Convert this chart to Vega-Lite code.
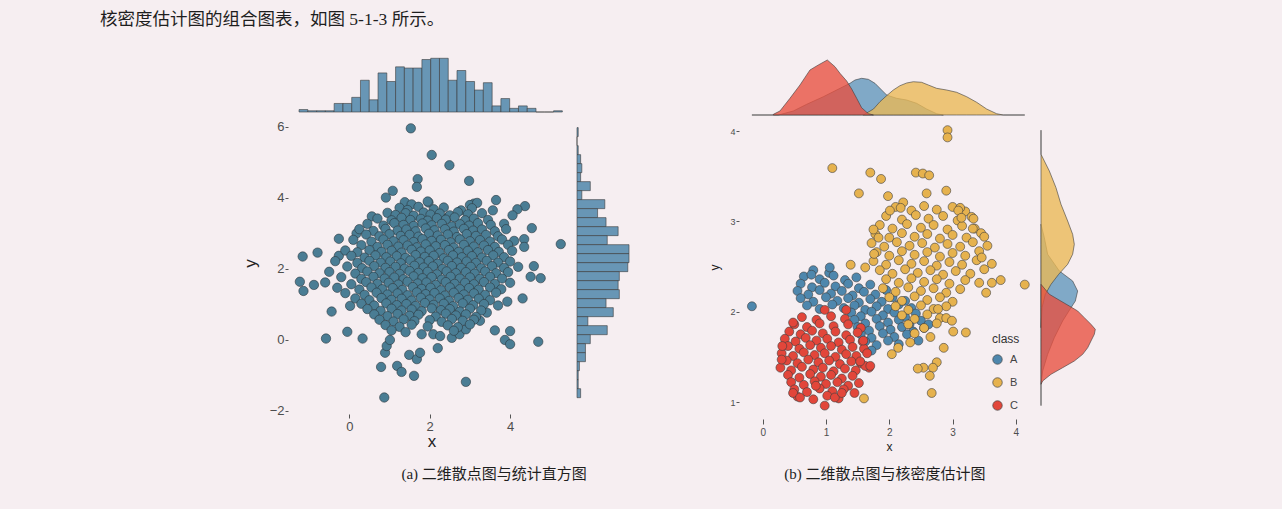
{
"$schema": "https://vega.github.io/schema/vega-lite/v6.json",
"background": "#f6eef1",
"padding": {"left": 100, "top": 10, "right": 182, "bottom": 27},
"title": {"text": "核密度估计图的组合图表，如图 5-1-3 所示。", "anchor": "start", "frame": "group", "dx": -188, "offset": 27, "fontSize": 17.5, "font": "Liberation Serif, Noto Sans CJK SC", "fontWeight": "normal", "color": "#1e1e1e"},
"datasets": {
"L": [
{"x":1.53,"y":5.96},{"x":2.05,"y":5.21},{"x":2.49,"y":4.92},{"x":2.98,"y":4.48},{"x":1.7,"y":4.53},{"x":1.68,"y":4.31},{"x":1.08,"y":4.2},{"x":0.91,"y":4.01},{"x":0.56,"y":3.48},{"x":0.18,"y":3.0},{"x":-0.26,"y":2.85},{"x":-0.79,"y":2.46},{"x":-1.16,"y":2.35},{"x":-0.26,"y":2.37},{"x":-1.23,"y":1.64},{"x":-1.14,"y":1.38},{"x":-0.88,"y":1.55},{"x":5.26,"y":2.7},{"x":4.54,"y":3.15},{"x":4.37,"y":3.77},{"x":4.18,"y":3.68},{"x":4.06,"y":3.51},{"x":3.65,"y":3.94},{"x":3.57,"y":3.65},{"x":3.1,"y":3.84},{"x":4.35,"y":2.84},{"x":4.35,"y":2.62},{"x":4.59,"y":2.08},{"x":4.51,"y":1.78},{"x":4.76,"y":1.74},{"x":4.31,"y":1.17},{"x":3.93,"y":1.08},{"x":1.97,"y":3.87},{"x":2.46,"y":3.46},
{"x":-0.58,"y":0.04},{"x":-0.05,"y":0.23},{"x":0.33,"y":0.04},{"x":-0.44,"y":0.8},{"x":0.02,"y":0.96},{"x":0.79,"y":-0.76},{"x":1.19,"y":-0.73},{"x":1.3,"y":-0.9},{"x":1.61,"y":-1.01},{"x":0.87,"y":-1.62},{"x":2.9,"y":-1.18},{"x":2.2,"y":-0.23},{"x":1.49,"y":-0.42},{"x":1.68,"y":-0.54},{"x":1.76,"y":-0.36},{"x":0.89,"y":-0.36},{"x":0.93,"y":-0.17},{"x":1.01,"y":0.0},{"x":3.62,"y":0.27},{"x":4.0,"y":0.25},{"x":3.87,"y":0.0},{"x":4.0,"y":-0.12},{"x":4.7,"y":-0.05},{"x":1.8,"y":0.16},{"x":2.09,"y":0.16},{"x":2.26,"y":0.11},{"x":2.55,"y":0.06},{"x":2.74,"y":0.16},{"x":2.9,"y":0.3},{"x":3.42,"y":0.77},{"x":3.25,"y":0.54},
{"x":1.38,"y":3.88},{"x":1.55,"y":3.82},{"x":1.95,"y":3.9},{"x":3.0,"y":3.8},{"x":3.18,"y":3.86},
{"x":1.25,"y":3.72},{"x":1.45,"y":3.66},{"x":1.72,"y":3.75},{"x":2.1,"y":3.68},{"x":2.35,"y":3.73},{"x":2.78,"y":3.65},{"x":3.05,"y":3.71},
{"x":0.95,"y":3.58},{"x":1.15,"y":3.52},{"x":1.4,"y":3.57},{"x":1.6,"y":3.5},{"x":1.85,"y":3.59},{"x":2.02,"y":3.53},{"x":2.25,"y":3.56},{"x":2.5,"y":3.51},{"x":2.7,"y":3.6},{"x":2.95,"y":3.54},{"x":3.3,"y":3.57},
{"x":0.7,"y":3.42},{"x":1.05,"y":3.37},{"x":1.3,"y":3.44},{"x":1.52,"y":3.38},{"x":1.78,"y":3.41},{"x":1.95,"y":3.36},{"x":2.18,"y":3.43},{"x":2.4,"y":3.39},{"x":2.62,"y":3.45},{"x":2.88,"y":3.37},{"x":3.1,"y":3.42},{"x":3.45,"y":3.38},
{"x":0.45,"y":3.27},{"x":0.85,"y":3.22},{"x":1.12,"y":3.29},{"x":1.35,"y":3.24},{"x":1.6,"y":3.21},{"x":1.82,"y":3.28},{"x":2.05,"y":3.23},{"x":2.3,"y":3.27},{"x":2.55,"y":3.2},{"x":2.75,"y":3.26},{"x":2.98,"y":3.22},{"x":3.2,"y":3.29},{"x":3.52,"y":3.24},{"x":3.85,"y":3.27},
{"x":0.25,"y":3.12},{"x":0.6,"y":3.07},{"x":0.9,"y":3.13},{"x":1.2,"y":3.08},{"x":1.42,"y":3.11},{"x":1.65,"y":3.06},{"x":1.9,"y":3.14},{"x":2.12,"y":3.09},{"x":2.38,"y":3.12},{"x":2.6,"y":3.05},{"x":2.85,"y":3.13},{"x":3.08,"y":3.08},{"x":3.3,"y":3.11},{"x":3.62,"y":3.06},{"x":3.9,"y":3.12},
{"x":0.42,"y":2.97},{"x":0.75,"y":2.92},{"x":1.0,"y":2.98},{"x":1.28,"y":2.93},{"x":1.5,"y":2.96},{"x":1.72,"y":2.91},{"x":1.98,"y":2.99},{"x":2.2,"y":2.94},{"x":2.45,"y":2.97},{"x":2.68,"y":2.9},{"x":2.92,"y":2.98},{"x":3.15,"y":2.93},{"x":3.4,"y":2.96},{"x":3.7,"y":2.92},
{"x":0.1,"y":2.82},{"x":0.55,"y":2.77},{"x":0.85,"y":2.83},{"x":1.1,"y":2.78},{"x":1.35,"y":2.81},{"x":1.6,"y":2.76},{"x":1.82,"y":2.84},{"x":2.05,"y":2.79},{"x":2.28,"y":2.82},{"x":2.52,"y":2.75},{"x":2.75,"y":2.83},{"x":3.0,"y":2.78},{"x":3.25,"y":2.81},{"x":3.5,"y":2.77},{"x":3.8,"y":2.83},{"x":4.1,"y":2.79},
{"x":0.3,"y":2.67},{"x":0.7,"y":2.62},{"x":0.95,"y":2.68},{"x":1.22,"y":2.63},{"x":1.45,"y":2.66},{"x":1.68,"y":2.61},{"x":1.9,"y":2.69},{"x":2.15,"y":2.64},{"x":2.38,"y":2.67},{"x":2.6,"y":2.6},{"x":2.85,"y":2.68},{"x":3.1,"y":2.63},{"x":3.35,"y":2.66},{"x":3.62,"y":2.62},{"x":3.95,"y":2.68},
{"x":-0.1,"y":2.52},{"x":0.2,"y":2.47},{"x":0.5,"y":2.53},{"x":0.8,"y":2.48},{"x":1.05,"y":2.51},{"x":1.3,"y":2.46},{"x":1.55,"y":2.54},{"x":1.78,"y":2.49},{"x":2.0,"y":2.52},{"x":2.25,"y":2.45},{"x":2.48,"y":2.53},{"x":2.72,"y":2.48},{"x":2.95,"y":2.51},{"x":3.2,"y":2.47},{"x":3.45,"y":2.53},{"x":3.72,"y":2.48},{"x":4.05,"y":2.51},
{"x":0.05,"y":2.37},{"x":0.38,"y":2.32},{"x":0.65,"y":2.38},{"x":0.92,"y":2.33},{"x":1.18,"y":2.36},{"x":1.4,"y":2.31},{"x":1.65,"y":2.39},{"x":1.88,"y":2.34},{"x":2.1,"y":2.37},{"x":2.35,"y":2.3},{"x":2.58,"y":2.38},{"x":2.8,"y":2.33},{"x":3.05,"y":2.36},{"x":3.3,"y":2.32},{"x":3.58,"y":2.38},{"x":3.85,"y":2.33},
{"x":-0.35,"y":2.22},{"x":0.2,"y":2.17},{"x":0.5,"y":2.23},{"x":0.78,"y":2.18},{"x":1.02,"y":2.21},{"x":1.28,"y":2.16},{"x":1.52,"y":2.24},{"x":1.75,"y":2.19},{"x":1.98,"y":2.22},{"x":2.2,"y":2.15},{"x":2.45,"y":2.23},{"x":2.68,"y":2.18},{"x":2.92,"y":2.21},{"x":3.15,"y":2.17},{"x":3.42,"y":2.23},{"x":3.7,"y":2.18},{"x":4.0,"y":2.21},
{"x":-0.05,"y":2.07},{"x":0.32,"y":2.02},{"x":0.62,"y":2.08},{"x":0.9,"y":2.03},{"x":1.15,"y":2.06},{"x":1.38,"y":2.01},{"x":1.62,"y":2.09},{"x":1.85,"y":2.04},{"x":2.08,"y":2.07},{"x":2.32,"y":2.0},{"x":2.55,"y":2.08},{"x":2.78,"y":2.03},{"x":3.02,"y":2.06},{"x":3.28,"y":2.02},{"x":3.55,"y":2.08},{"x":3.85,"y":2.03},{"x":4.2,"y":2.06},
{"x":-0.5,"y":1.92},{"x":0.15,"y":1.87},{"x":0.45,"y":1.93},{"x":0.75,"y":1.88},{"x":1.0,"y":1.91},{"x":1.25,"y":1.86},{"x":1.5,"y":1.94},{"x":1.72,"y":1.89},{"x":1.95,"y":1.92},{"x":2.18,"y":1.85},{"x":2.42,"y":1.93},{"x":2.65,"y":1.88},{"x":2.9,"y":1.91},{"x":3.12,"y":1.87},{"x":3.38,"y":1.93},{"x":3.65,"y":1.88},{"x":3.95,"y":1.91},
{"x":-0.2,"y":1.77},{"x":0.3,"y":1.72},{"x":0.6,"y":1.78},{"x":0.88,"y":1.73},{"x":1.12,"y":1.76},{"x":1.35,"y":1.71},{"x":1.6,"y":1.79},{"x":1.82,"y":1.74},{"x":2.05,"y":1.77},{"x":2.3,"y":1.7},{"x":2.52,"y":1.78},{"x":2.75,"y":1.73},{"x":3.0,"y":1.76},{"x":3.25,"y":1.72},{"x":3.5,"y":1.78},{"x":3.8,"y":1.73},
{"x":-0.6,"y":1.62},{"x":0.05,"y":1.57},{"x":0.42,"y":1.63},{"x":0.7,"y":1.58},{"x":0.98,"y":1.61},{"x":1.22,"y":1.56},{"x":1.45,"y":1.64},{"x":1.7,"y":1.59},{"x":1.92,"y":1.62},{"x":2.15,"y":1.55},{"x":2.4,"y":1.63},{"x":2.62,"y":1.58},{"x":2.88,"y":1.61},{"x":3.1,"y":1.57},{"x":3.35,"y":1.63},{"x":3.62,"y":1.58},{"x":4.0,"y":1.61},
{"x":-0.3,"y":1.47},{"x":0.25,"y":1.42},{"x":0.55,"y":1.48},{"x":0.82,"y":1.43},{"x":1.08,"y":1.46},{"x":1.32,"y":1.41},{"x":1.58,"y":1.49},{"x":1.8,"y":1.44},{"x":2.02,"y":1.47},{"x":2.28,"y":1.4},{"x":2.5,"y":1.48},{"x":2.75,"y":1.43},{"x":2.98,"y":1.46},{"x":3.22,"y":1.42},{"x":3.5,"y":1.48},{"x":3.78,"y":1.43},
{"x":-0.1,"y":1.32},{"x":0.38,"y":1.27},{"x":0.68,"y":1.33},{"x":0.95,"y":1.28},{"x":1.2,"y":1.31},{"x":1.45,"y":1.26},{"x":1.68,"y":1.34},{"x":1.9,"y":1.29},{"x":2.12,"y":1.32},{"x":2.38,"y":1.25},{"x":2.6,"y":1.33},{"x":2.85,"y":1.28},{"x":3.1,"y":1.31},{"x":3.38,"y":1.27},{"x":3.65,"y":1.33},
{"x":0.15,"y":1.17},{"x":0.5,"y":1.12},{"x":0.8,"y":1.18},{"x":1.05,"y":1.13},{"x":1.3,"y":1.16},{"x":1.55,"y":1.11},{"x":1.78,"y":1.19},{"x":2.0,"y":1.14},{"x":2.25,"y":1.17},{"x":2.48,"y":1.1},{"x":2.72,"y":1.18},{"x":2.95,"y":1.13},{"x":3.22,"y":1.16},{"x":3.5,"y":1.12},
{"x":0.3,"y":1.02},{"x":0.62,"y":0.97},{"x":0.92,"y":1.03},{"x":1.18,"y":0.98},{"x":1.42,"y":1.01},{"x":1.65,"y":0.96},{"x":1.88,"y":1.04},{"x":2.1,"y":0.99},{"x":2.35,"y":1.02},{"x":2.58,"y":0.95},{"x":2.82,"y":1.03},{"x":3.08,"y":0.98},{"x":3.35,"y":1.01},{"x":3.7,"y":0.97},
{"x":0.45,"y":0.87},{"x":0.78,"y":0.82},{"x":1.05,"y":0.88},{"x":1.3,"y":0.83},{"x":1.55,"y":0.86},{"x":1.8,"y":0.81},{"x":2.05,"y":0.89},{"x":2.28,"y":0.84},{"x":2.5,"y":0.87},{"x":2.75,"y":0.8},{"x":3.0,"y":0.88},{"x":3.28,"y":0.83},
{"x":0.62,"y":0.72},{"x":0.95,"y":0.67},{"x":1.2,"y":0.73},{"x":1.5,"y":0.68},{"x":1.72,"y":0.71},{"x":2.15,"y":0.66},{"x":2.4,"y":0.74},{"x":2.65,"y":0.69},{"x":2.9,"y":0.72},{"x":3.15,"y":0.65},
{"x":0.75,"y":0.57},{"x":1.1,"y":0.52},{"x":1.35,"y":0.58},{"x":1.62,"y":0.53},{"x":2.0,"y":0.56},{"x":2.3,"y":0.51},{"x":2.55,"y":0.59},{"x":2.82,"y":0.54},{"x":3.1,"y":0.57},
{"x":0.9,"y":0.42},{"x":1.25,"y":0.37},{"x":1.55,"y":0.43},{"x":1.95,"y":0.38},{"x":2.45,"y":0.41},{"x":2.7,"y":0.36},{"x":3.0,"y":0.44},
{"x":1.05,"y":0.27},{"x":1.4,"y":0.22},{"x":2.6,"y":0.26}
],
"LX": [
{"x0":-1.25,"x1":-1.032,"n":2},{"x0":-1.032,"x1":-0.813,"n":1},{"x0":-0.813,"x1":-0.595,"n":1},{"x0":-0.595,"x1":-0.377,"n":1},{"x0":-0.377,"x1":-0.158,"n":7},{"x0":-0.158,"x1":0.06,"n":7},{"x0":0.06,"x1":0.278,"n":12},{"x0":0.278,"x1":0.496,"n":26},{"x0":0.496,"x1":0.715,"n":10},{"x0":0.715,"x1":0.933,"n":32},{"x0":0.933,"x1":1.151,"n":25},{"x0":1.151,"x1":1.37,"n":37},{"x0":1.37,"x1":1.588,"n":36},{"x0":1.588,"x1":1.806,"n":36},{"x0":1.806,"x1":2.025,"n":43},{"x0":2.025,"x1":2.243,"n":44},{"x0":2.243,"x1":2.461,"n":44},{"x0":2.461,"x1":2.679,"n":26},{"x0":2.679,"x1":2.898,"n":34},{"x0":2.898,"x1":3.116,"n":25},{"x0":3.116,"x1":3.334,"n":18},{"x0":3.334,"x1":3.553,"n":24},{"x0":3.553,"x1":3.771,"n":5},{"x0":3.771,"x1":3.989,"n":11},{"x0":3.989,"x1":4.208,"n":3},{"x0":4.208,"x1":4.426,"n":5},{"x0":4.426,"x1":4.644,"n":3},{"x0":4.644,"x1":4.862,"n":0},{"x0":4.862,"x1":5.081,"n":0},{"x0":5.081,"x1":5.299,"n":1}
],
"LY": [
{"y0":5.727,"y1":5.98,"n":1},{"y0":5.473,"y1":5.727,"n":0},{"y0":5.219,"y1":5.473,"n":1},{"y0":4.966,"y1":5.219,"n":3},{"y0":4.712,"y1":4.966,"n":4},{"y0":4.459,"y1":4.712,"n":3},{"y0":4.205,"y1":4.459,"n":11},{"y0":3.952,"y1":4.205,"n":4},{"y0":3.698,"y1":3.952,"n":23},{"y0":3.445,"y1":3.698,"n":17},{"y0":3.191,"y1":3.445,"n":24},{"y0":2.938,"y1":3.191,"n":34},{"y0":2.684,"y1":2.938,"n":25},{"y0":2.431,"y1":2.684,"n":43},{"y0":2.177,"y1":2.431,"n":43},{"y0":1.924,"y1":2.177,"n":42},{"y0":1.67,"y1":1.924,"n":35},{"y0":1.417,"y1":1.67,"n":34},{"y0":1.163,"y1":1.417,"n":35},{"y0":0.91,"y1":1.163,"n":24},{"y0":0.656,"y1":0.91,"n":30},{"y0":0.403,"y1":0.656,"n":9},{"y0":0.149,"y1":0.403,"n":25},{"y0":-0.104,"y1":0.149,"n":11},{"y0":-0.358,"y1":-0.104,"n":7},{"y0":-0.611,"y1":-0.358,"n":7},{"y0":-0.865,"y1":-0.611,"n":2},{"y0":-1.118,"y1":-0.865,"n":1},{"y0":-1.372,"y1":-1.118,"n":1},{"y0":-1.625,"y1":-1.372,"n":3}
],
"R": [
{"x":0.8,"y":2.46,"c":"A"},{"x":1.05,"y":2.43,"c":"A"},
{"x":0.65,"y":2.39,"c":"A"},{"x":0.9,"y":2.36,"c":"A"},{"x":1.12,"y":2.4,"c":"A"},{"x":1.3,"y":2.35,"c":"A"},{"x":1.48,"y":2.38,"c":"A"},
{"x":0.6,"y":2.31,"c":"A"},{"x":0.78,"y":2.27,"c":"A"},{"x":0.98,"y":2.32,"c":"A"},{"x":1.15,"y":2.28,"c":"A"},{"x":1.35,"y":2.31,"c":"A"},{"x":1.52,"y":2.26,"c":"A"},{"x":1.7,"y":2.3,"c":"A"},
{"x":0.55,"y":2.23,"c":"A"},{"x":0.72,"y":2.19,"c":"A"},{"x":0.9,"y":2.24,"c":"A"},{"x":1.08,"y":2.2,"c":"A"},{"x":1.25,"y":2.23,"c":"A"},{"x":1.42,"y":2.18,"c":"A"},{"x":1.6,"y":2.22,"c":"A"},{"x":1.78,"y":2.19,"c":"A"},{"x":1.95,"y":2.24,"c":"A"},
{"x":0.6,"y":2.15,"c":"A"},{"x":0.8,"y":2.11,"c":"A"},{"x":1.0,"y":2.16,"c":"A"},{"x":1.18,"y":2.12,"c":"A"},{"x":1.35,"y":2.15,"c":"A"},{"x":1.52,"y":2.1,"c":"A"},{"x":1.7,"y":2.14,"c":"A"},{"x":1.88,"y":2.11,"c":"A"},{"x":2.05,"y":2.16,"c":"A"},{"x":2.25,"y":2.12,"c":"A"},
{"x":0.7,"y":2.07,"c":"A"},{"x":0.9,"y":2.03,"c":"A"},{"x":1.1,"y":2.08,"c":"A"},{"x":1.28,"y":2.04,"c":"A"},{"x":1.45,"y":2.07,"c":"A"},{"x":1.62,"y":2.02,"c":"A"},{"x":1.8,"y":2.06,"c":"A"},{"x":1.98,"y":2.03,"c":"A"},{"x":2.15,"y":2.08,"c":"A"},{"x":2.35,"y":2.04,"c":"A"},
{"x":1.4,"y":1.99,"c":"A"},{"x":1.55,"y":1.95,"c":"A"},{"x":1.72,"y":2.0,"c":"A"},{"x":1.9,"y":1.96,"c":"A"},{"x":2.08,"y":1.99,"c":"A"},{"x":2.25,"y":1.94,"c":"A"},{"x":2.42,"y":1.98,"c":"A"},
{"x":1.45,"y":1.91,"c":"A"},{"x":1.62,"y":1.87,"c":"A"},{"x":1.8,"y":1.92,"c":"A"},{"x":1.98,"y":1.88,"c":"A"},{"x":2.15,"y":1.91,"c":"A"},{"x":2.32,"y":1.86,"c":"A"},{"x":2.5,"y":1.9,"c":"A"},
{"x":1.5,"y":1.83,"c":"A"},{"x":1.68,"y":1.79,"c":"A"},{"x":1.85,"y":1.84,"c":"A"},{"x":2.02,"y":1.8,"c":"A"},{"x":2.2,"y":1.83,"c":"A"},{"x":2.38,"y":1.78,"c":"A"},{"x":2.55,"y":1.82,"c":"A"},
{"x":1.55,"y":1.75,"c":"A"},{"x":1.72,"y":1.71,"c":"A"},{"x":1.9,"y":1.76,"c":"A"},{"x":2.08,"y":1.72,"c":"A"},{"x":2.28,"y":1.75,"c":"A"},
{"x":1.62,"y":1.67,"c":"A"},{"x":1.8,"y":1.63,"c":"A"},{"x":1.98,"y":1.68,"c":"A"},{"x":2.15,"y":1.64,"c":"A"},
{"x":-0.17,"y":2.06,"c":"A"},{"x":1.06,"y":2.49,"c":"A"},{"x":0.77,"y":2.41,"c":"A"},{"x":1.72,"y":1.57,"c":"A"},{"x":2.62,"y":1.86,"c":"A"},{"x":2.46,"y":1.68,"c":"A"},
{"x":2.1,"y":3.16,"c":"B"},{"x":2.35,"y":3.12,"c":"B"},{"x":2.55,"y":3.17,"c":"B"},{"x":2.75,"y":3.13,"c":"B"},{"x":3.0,"y":3.16,"c":"B"},{"x":3.2,"y":3.11,"c":"B"},
{"x":1.95,"y":3.06,"c":"B"},{"x":2.2,"y":3.02,"c":"B"},{"x":2.42,"y":3.07,"c":"B"},{"x":2.62,"y":3.03,"c":"B"},{"x":2.85,"y":3.06,"c":"B"},{"x":3.08,"y":3.01,"c":"B"},{"x":3.3,"y":3.05,"c":"B"},
{"x":1.85,"y":2.96,"c":"B"},{"x":2.05,"y":2.92,"c":"B"},{"x":2.28,"y":2.97,"c":"B"},{"x":2.5,"y":2.93,"c":"B"},{"x":2.7,"y":2.96,"c":"B"},{"x":2.92,"y":2.91,"c":"B"},{"x":3.15,"y":2.95,"c":"B"},{"x":3.35,"y":2.92,"c":"B"},
{"x":1.78,"y":2.86,"c":"B"},{"x":2.0,"y":2.82,"c":"B"},{"x":2.2,"y":2.87,"c":"B"},{"x":2.4,"y":2.83,"c":"B"},{"x":2.6,"y":2.86,"c":"B"},{"x":2.8,"y":2.81,"c":"B"},{"x":3.0,"y":2.85,"c":"B"},{"x":3.22,"y":2.82,"c":"B"},{"x":3.45,"y":2.87,"c":"B"},
{"x":1.72,"y":2.76,"c":"B"},{"x":1.92,"y":2.72,"c":"B"},{"x":2.12,"y":2.77,"c":"B"},{"x":2.32,"y":2.73,"c":"B"},{"x":2.52,"y":2.76,"c":"B"},{"x":2.72,"y":2.71,"c":"B"},{"x":2.92,"y":2.75,"c":"B"},{"x":3.12,"y":2.72,"c":"B"},{"x":3.32,"y":2.77,"c":"B"},{"x":3.55,"y":2.73,"c":"B"},
{"x":1.8,"y":2.66,"c":"B"},{"x":2.0,"y":2.62,"c":"B"},{"x":2.2,"y":2.67,"c":"B"},{"x":2.4,"y":2.63,"c":"B"},{"x":2.6,"y":2.66,"c":"B"},{"x":2.8,"y":2.61,"c":"B"},{"x":3.0,"y":2.65,"c":"B"},{"x":3.2,"y":2.62,"c":"B"},{"x":3.42,"y":2.67,"c":"B"},
{"x":1.75,"y":2.56,"c":"B"},{"x":1.95,"y":2.52,"c":"B"},{"x":2.15,"y":2.57,"c":"B"},{"x":2.35,"y":2.53,"c":"B"},{"x":2.55,"y":2.56,"c":"B"},{"x":2.75,"y":2.51,"c":"B"},{"x":2.95,"y":2.55,"c":"B"},{"x":3.15,"y":2.52,"c":"B"},{"x":3.38,"y":2.57,"c":"B"},{"x":3.62,"y":2.53,"c":"B"},
{"x":1.85,"y":2.46,"c":"B"},{"x":2.05,"y":2.42,"c":"B"},{"x":2.25,"y":2.47,"c":"B"},{"x":2.45,"y":2.43,"c":"B"},{"x":2.65,"y":2.46,"c":"B"},{"x":2.85,"y":2.41,"c":"B"},{"x":3.05,"y":2.45,"c":"B"},{"x":3.28,"y":2.42,"c":"B"},{"x":3.5,"y":2.47,"c":"B"},
{"x":1.95,"y":2.36,"c":"B"},{"x":2.15,"y":2.32,"c":"B"},{"x":2.35,"y":2.37,"c":"B"},{"x":2.55,"y":2.33,"c":"B"},{"x":2.75,"y":2.36,"c":"B"},{"x":2.95,"y":2.31,"c":"B"},{"x":3.2,"y":2.35,"c":"B"},{"x":3.42,"y":2.32,"c":"B"},
{"x":1.9,"y":2.26,"c":"B"},{"x":2.1,"y":2.22,"c":"B"},{"x":2.3,"y":2.27,"c":"B"},{"x":2.5,"y":2.23,"c":"B"},{"x":2.7,"y":2.26,"c":"B"},{"x":2.9,"y":2.21,"c":"B"},{"x":3.12,"y":2.25,"c":"B"},
{"x":2.0,"y":2.16,"c":"B"},{"x":2.2,"y":2.12,"c":"B"},{"x":2.4,"y":2.17,"c":"B"},{"x":2.6,"y":2.13,"c":"B"},{"x":2.8,"y":2.16,"c":"B"},{"x":3.0,"y":2.11,"c":"B"},
{"x":2.1,"y":2.06,"c":"B"},{"x":2.3,"y":2.02,"c":"B"},{"x":2.5,"y":2.07,"c":"B"},{"x":2.7,"y":2.03,"c":"B"},{"x":2.9,"y":2.06,"c":"B"},
{"x":2.2,"y":1.96,"c":"B"},{"x":2.4,"y":1.92,"c":"B"},{"x":2.6,"y":1.97,"c":"B"},{"x":2.8,"y":1.93,"c":"B"},
{"x":2.3,"y":1.86,"c":"B"},{"x":2.55,"y":1.82,"c":"B"},{"x":2.75,"y":1.87,"c":"B"},
{"x":2.4,"y":1.76,"c":"B"},{"x":2.65,"y":1.72,"c":"B"},
{"x":2.92,"y":4.01,"c":"B"},{"x":2.92,"y":3.93,"c":"B"},{"x":1.1,"y":3.59,"c":"B"},{"x":1.7,"y":3.54,"c":"B"},{"x":1.87,"y":3.47,"c":"B"},{"x":2.42,"y":3.54,"c":"B"},{"x":2.53,"y":3.53,"c":"B"},{"x":2.63,"y":3.51,"c":"B"},{"x":1.52,"y":3.31,"c":"B"},{"x":1.98,"y":3.28,"c":"B"},{"x":2.59,"y":3.31,"c":"B"},{"x":2.9,"y":3.34,"c":"B"},{"x":2.22,"y":3.21,"c":"B"},{"x":2.18,"y":3.15,"c":"B"},{"x":4.14,"y":2.3,"c":"B"},{"x":3.76,"y":2.35,"c":"B"},{"x":3.62,"y":2.32,"c":"B"},{"x":3.53,"y":2.21,"c":"B"},{"x":3.5,"y":2.83,"c":"B"},{"x":3.33,"y":3.03,"c":"B"},{"x":3.32,"y":2.92,"c":"B"},{"x":3.12,"y":3.15,"c":"B"},{"x":3.09,"y":3.12,"c":"B"},{"x":3.14,"y":3.04,"c":"B"},{"x":1.39,"y":2.52,"c":"B"},{"x":1.62,"y":2.49,"c":"B"},{"x":1.75,"y":2.91,"c":"B"},{"x":1.83,"y":2.82,"c":"B"},{"x":1.76,"y":2.64,"c":"B"},{"x":2.01,"y":3.12,"c":"B"},{"x":3.46,"y":2.6,"c":"B"},{"x":3.21,"y":1.77,"c":"B"},{"x":3.01,"y":1.78,"c":"B"},{"x":2.86,"y":1.6,"c":"B"},{"x":2.75,"y":1.44,"c":"B"},{"x":2.69,"y":1.38,"c":"B"},{"x":2.54,"y":1.38,"c":"B"},{"x":2.45,"y":1.37,"c":"B"},{"x":2.64,"y":1.29,"c":"B"},{"x":2.67,"y":1.1,"c":"B"},{"x":1.6,"y":1.04,"c":"B"},{"x":2.04,"y":1.53,"c":"B"},{"x":2.14,"y":1.6,"c":"B"},{"x":2.33,"y":1.66,"c":"B"},{"x":2.9,"y":1.93,"c":"B"},{"x":2.99,"y":1.9,"c":"B"},{"x":2.77,"y":2.03,"c":"B"},
{"x":0.62,"y":1.94,"c":"C"},{"x":0.85,"y":1.91,"c":"C"},{"x":1.08,"y":1.95,"c":"C"},{"x":1.3,"y":1.92,"c":"C"},
{"x":0.5,"y":1.86,"c":"C"},{"x":0.7,"y":1.83,"c":"C"},{"x":0.9,"y":1.87,"c":"C"},{"x":1.12,"y":1.84,"c":"C"},{"x":1.35,"y":1.86,"c":"C"},{"x":1.55,"y":1.82,"c":"C"},
{"x":0.42,"y":1.78,"c":"C"},{"x":0.6,"y":1.75,"c":"C"},{"x":0.78,"y":1.79,"c":"C"},{"x":0.95,"y":1.76,"c":"C"},{"x":1.15,"y":1.78,"c":"C"},{"x":1.32,"y":1.74,"c":"C"},{"x":1.5,"y":1.77,"c":"C"},
{"x":0.35,"y":1.7,"c":"C"},{"x":0.52,"y":1.67,"c":"C"},{"x":0.68,"y":1.71,"c":"C"},{"x":0.85,"y":1.68,"c":"C"},{"x":1.02,"y":1.7,"c":"C"},{"x":1.2,"y":1.66,"c":"C"},{"x":1.38,"y":1.69,"c":"C"},{"x":1.58,"y":1.67,"c":"C"},
{"x":0.4,"y":1.62,"c":"C"},{"x":0.58,"y":1.59,"c":"C"},{"x":0.75,"y":1.63,"c":"C"},{"x":0.92,"y":1.6,"c":"C"},{"x":1.08,"y":1.62,"c":"C"},{"x":1.25,"y":1.58,"c":"C"},{"x":1.42,"y":1.61,"c":"C"},{"x":1.6,"y":1.59,"c":"C"},
{"x":0.3,"y":1.54,"c":"C"},{"x":0.48,"y":1.51,"c":"C"},{"x":0.65,"y":1.55,"c":"C"},{"x":0.82,"y":1.52,"c":"C"},{"x":0.98,"y":1.54,"c":"C"},{"x":1.15,"y":1.5,"c":"C"},{"x":1.32,"y":1.53,"c":"C"},{"x":1.48,"y":1.51,"c":"C"},{"x":1.65,"y":1.54,"c":"C"},
{"x":0.38,"y":1.46,"c":"C"},{"x":0.55,"y":1.43,"c":"C"},{"x":0.72,"y":1.47,"c":"C"},{"x":0.88,"y":1.44,"c":"C"},{"x":1.05,"y":1.46,"c":"C"},{"x":1.22,"y":1.42,"c":"C"},{"x":1.4,"y":1.45,"c":"C"},{"x":1.55,"y":1.43,"c":"C"},
{"x":0.28,"y":1.38,"c":"C"},{"x":0.45,"y":1.35,"c":"C"},{"x":0.62,"y":1.39,"c":"C"},{"x":0.8,"y":1.36,"c":"C"},{"x":0.95,"y":1.38,"c":"C"},{"x":1.12,"y":1.34,"c":"C"},{"x":1.3,"y":1.37,"c":"C"},{"x":1.47,"y":1.35,"c":"C"},{"x":1.68,"y":1.38,"c":"C"},
{"x":0.4,"y":1.3,"c":"C"},{"x":0.58,"y":1.27,"c":"C"},{"x":0.75,"y":1.31,"c":"C"},{"x":0.92,"y":1.28,"c":"C"},{"x":1.08,"y":1.3,"c":"C"},{"x":1.25,"y":1.26,"c":"C"},{"x":1.42,"y":1.29,"c":"C"},
{"x":0.45,"y":1.22,"c":"C"},{"x":0.65,"y":1.19,"c":"C"},{"x":0.82,"y":1.23,"c":"C"},{"x":1.0,"y":1.2,"c":"C"},{"x":1.18,"y":1.22,"c":"C"},{"x":1.35,"y":1.18,"c":"C"},{"x":1.52,"y":1.21,"c":"C"},
{"x":0.5,"y":1.14,"c":"C"},{"x":0.7,"y":1.11,"c":"C"},{"x":0.9,"y":1.15,"c":"C"},{"x":1.1,"y":1.12,"c":"C"},{"x":1.28,"y":1.14,"c":"C"},{"x":1.45,"y":1.1,"c":"C"},
{"x":0.55,"y":1.06,"c":"C"},{"x":0.8,"y":1.03,"c":"C"},{"x":1.02,"y":1.07,"c":"C"},{"x":1.2,"y":1.04,"c":"C"},
{"x":0.98,"y":0.96,"c":"C"},{"x":0.3,"y":1.47,"c":"C"},{"x":0.31,"y":1.62,"c":"C"},{"x":0.48,"y":1.1,"c":"C"},{"x":0.59,"y":1.05,"c":"C"},{"x":1.14,"y":1.05,"c":"C"},{"x":1.25,"y":1.1,"c":"C"},{"x":1.62,"y":1.4,"c":"C"},{"x":1.7,"y":1.4,"c":"C"},{"x":1.54,"y":1.45,"c":"C"},{"x":1.59,"y":1.68,"c":"C"},{"x":0.98,"y":2.02,"c":"C"},{"x":1.32,"y":2.02,"c":"C"},{"x":0.48,"y":1.88,"c":"C"},{"x":0.84,"y":1.18,"c":"C"}
],
"RDX": [
{"c":"A","x":-0.17,"d":0},{"c":"A","x":0.247,"d":0},{"c":"A","x":0.484,"d":0.118},{"c":"A","x":0.695,"d":0.315},{"c":"A","x":0.958,"d":0.538},{"c":"A","x":1.221,"d":0.785},{"c":"A","x":1.379,"d":0.932},{"c":"A","x":1.458,"d":1.029},{"c":"A","x":1.563,"d":1.079},{"c":"A","x":1.669,"d":1.05},{"c":"A","x":1.774,"d":0.932},{"c":"A","x":1.879,"d":0.735},{"c":"A","x":1.958,"d":0.588},{"c":"A","x":2.116,"d":0.491},{"c":"A","x":2.274,"d":0.441},{"c":"A","x":2.432,"d":0.344},{"c":"A","x":2.59,"d":0.176},{"c":"A","x":2.748,"d":0.038},{"c":"A","x":2.854,"d":0},
{"c":"B","x":1.59,"d":0},{"c":"B","x":1.75,"d":0.176},{"c":"B","x":1.853,"d":0.391},{"c":"B","x":1.958,"d":0.568},{"c":"B","x":2.064,"d":0.735},{"c":"B","x":2.169,"d":0.862},{"c":"B","x":2.274,"d":0.941},{"c":"B","x":2.38,"d":0.979},{"c":"B","x":2.511,"d":0.962},{"c":"B","x":2.617,"d":0.882},{"c":"B","x":2.748,"d":0.785},{"c":"B","x":2.906,"d":0.735},{"c":"B","x":3.064,"d":0.668},{"c":"B","x":3.222,"d":0.538},{"c":"B","x":3.38,"d":0.374},{"c":"B","x":3.538,"d":0.176},{"c":"B","x":3.696,"d":0.038},{"c":"B","x":3.8,"d":0},{"c":"B","x":4.14,"d":0},
{"c":"C","x":0.168,"d":0.02},{"c":"C","x":0.273,"d":0.118},{"c":"C","x":0.431,"d":0.491},{"c":"C","x":0.589,"d":0.882},{"c":"C","x":0.747,"d":1.324},{"c":"C","x":0.879,"d":1.471},{"c":"C","x":1.021,"d":1.618},{"c":"C","x":1.142,"d":1.421},{"c":"C","x":1.221,"d":1.226},{"c":"C","x":1.327,"d":1.0},{"c":"C","x":1.406,"d":0.765},{"c":"C","x":1.485,"d":0.491},{"c":"C","x":1.563,"d":0.215},{"c":"C","x":1.668,"d":0.04},{"c":"C","x":1.75,"d":0}
],
"RDY": [
{"c":"A","y":1.196,"d":0},{"c":"A","y":1.343,"d":0.049},{"c":"A","y":1.528,"d":0.196},{"c":"A","y":1.712,"d":0.392},{"c":"A","y":1.897,"d":0.637},{"c":"A","y":2.044,"d":0.882},{"c":"A","y":2.118,"d":1.01},{"c":"A","y":2.229,"d":1.078},{"c":"A","y":2.34,"d":0.931},{"c":"A","y":2.451,"d":0.539},{"c":"A","y":2.636,"d":0.196},{"c":"A","y":2.82,"d":0.098},{"c":"A","y":2.968,"d":0},
{"c":"B","y":1.823,"d":0},{"c":"B","y":2.044,"d":0.029},{"c":"B","y":2.193,"d":0.127},{"c":"B","y":2.303,"d":0.294},{"c":"B","y":2.414,"d":0.52},{"c":"B","y":2.525,"d":0.785},{"c":"B","y":2.636,"d":0.931},{"c":"B","y":2.746,"d":0.98},{"c":"B","y":2.857,"d":0.931},{"c":"B","y":3.004,"d":0.785},{"c":"B","y":3.189,"d":0.588},{"c":"B","y":3.373,"d":0.441},{"c":"B","y":3.558,"d":0.245},{"c":"B","y":3.743,"d":0},{"c":"B","y":4.01,"d":0},
{"c":"C","y":0.96,"d":0},{"c":"C","y":1.196,"d":0},{"c":"C","y":1.233,"d":0.049},{"c":"C","y":1.307,"d":0.294},{"c":"C","y":1.38,"d":0.637},{"c":"C","y":1.454,"d":0.98},{"c":"C","y":1.528,"d":1.226},{"c":"C","y":1.601,"d":1.373},{"c":"C","y":1.676,"d":1.471},{"c":"C","y":1.75,"d":1.569},{"c":"C","y":1.805,"d":1.598},{"c":"C","y":1.86,"d":1.471},{"c":"C","y":1.934,"d":1.275},{"c":"C","y":2.008,"d":1.078},{"c":"C","y":2.063,"d":0.833},{"c":"C","y":2.193,"d":0.245},{"c":"C","y":2.303,"d":0}
]
},
"bounds": "flush",
"spacing": 451,
"hconcat": [
{
"bounds": "flush",
"spacing": 0,
"title": {"text": "(a) 二维散点图与统计直方图", "orient": "bottom", "anchor": "middle", "dx": 55, "offset": 18, "fontSize": 15, "font": "Liberation Serif, Noto Sans CJK SC", "fontWeight": "normal", "color": "#1e1e1e"},
"vconcat": [
{
"width": 287, "height": 57,
"data": {"name": "LX"},
"mark": {"type": "bar", "fill": "#6896b5", "stroke": "#3a3a3a", "strokeWidth": 0.6},
"encoding": {
"x": {"field": "x0", "type": "quantitative", "scale": {"domain": [-1.525, 5.614], "nice": false, "zero": false}, "axis": null},
"x2": {"field": "x1"},
"y": {"field": "n", "type": "quantitative", "scale": {"domain": [0, 46.7], "nice": false}, "axis": null},
"y2": {"datum": 0}
}
},
{
"bounds": "flush",
"spacing": 2,
"hconcat": [
{
"width": 287, "height": 302,
"data": {"name": "L"},
"mark": {"type": "circle", "size": 88, "fill": "#4a7d94", "stroke": "#2c383e", "strokeWidth": 0.6, "opacity": 1},
"encoding": {
"x": {"field": "x", "type": "quantitative", "scale": {"domain": [-1.525, 5.614], "nice": false, "zero": false}, "axis": {"values": [0, 2, 4], "labelFontSize": 13, "tickSize": 4, "labelPadding": 2, "title": "x", "titleFontSize": 17, "titlePadding": 0}},
"y": {"field": "y", "type": "quantitative", "scale": {"domain": [-2.085, 6.42], "nice": false, "zero": false}, "axis": {"values": [-2, 0, 2, 4, 6], "labelFontSize": 13, "tickSize": 3, "labelPadding": 1, "title": "y", "titleFontSize": 17, "titlePadding": 10}}
}
},
{
"width": 60, "height": 302,
"data": {"name": "LY"},
"mark": {"type": "bar", "fill": "#6896b5", "stroke": "#3a3a3a", "strokeWidth": 0.6},
"encoding": {
"y": {"field": "y0", "type": "quantitative", "scale": {"domain": [-2.085, 6.42], "nice": false, "zero": false}, "axis": null},
"y2": {"field": "y1"},
"x": {"field": "n", "type": "quantitative", "scale": {"domain": [0, 49.6], "nice": false}, "axis": null},
"x2": {"datum": 0}
}
}
]
}
]
},
{
"bounds": "flush",
"spacing": 0,
"title": {"text": "(b) 二维散点图与核密度估计图", "orient": "bottom", "anchor": "middle", "dx": -20, "offset": 15, "fontSize": 15, "font": "Liberation Serif, Noto Sans CJK SC", "fontWeight": "normal", "color": "#1e1e1e"},
"resolve": {"scale": {"color": "independent"}, "legend": {"color": "independent"}},
"vconcat": [
{
"width": 300, "height": 60,
"data": {"name": "RDX"},
"mark": {"type": "area", "fillOpacity": 0.78, "stroke": "#3c3c3c", "strokeWidth": 0.6},
"encoding": {
"x": {"field": "x", "type": "quantitative", "scale": {"domain": [-0.374, 4.365], "nice": false, "zero": false}, "axis": null},
"y": {"field": "d", "type": "quantitative", "stack": null, "scale": {"domain": [0, 1.765], "nice": false}, "axis": null},
"color": {"field": "c", "type": "nominal", "scale": {"domain": ["A", "B", "C"], "range": ["#5f96bb", "#ebb955", "#e8503f"]}, "legend": null}
}
},
{
"bounds": "flush",
"spacing": 2,
"resolve": {"scale": {"color": "independent"}, "legend": {"color": "independent"}},
"hconcat": [
{
"width": 300, "height": 304,
"data": {"name": "R"},
"mark": {"type": "circle", "size": 80, "stroke": "#3e3e3e", "strokeWidth": 0.6, "opacity": 1},
"encoding": {
"x": {"field": "x", "type": "quantitative", "scale": {"domain": [-0.374, 4.365], "nice": false, "zero": false}, "axis": {"values": [0, 1, 2, 3, 4], "labelFontSize": 10, "tickSize": 5, "labelPadding": 3, "title": "x", "titleFontSize": 12, "titlePadding": 4}},
"y": {"field": "y", "type": "quantitative", "scale": {"domain": [0.812, 4.178], "nice": false, "zero": false}, "axis": {"values": [1, 2, 3, 4], "labelFontSize": 9, "tickSize": 3, "labelPadding": 1, "title": "y", "titleFontSize": 12, "titlePadding": 8}},
"color": {"field": "c", "type": "nominal", "scale": {"domain": ["A", "B", "C"], "range": ["#4e87ad", "#e6b24e", "#e2463a"]}, "legend": {"orient": "none", "legendX": 253, "legendY": 219, "title": "class", "titleFontSize": 12, "titleColor": "#333", "titleFontWeight": "normal", "titleFont": "Liberation Sans", "labelFont": "Liberation Sans", "labelFontSize": 11, "labelColor": "#444", "symbolSize": 90, "symbolType": "circle", "symbolStrokeColor": "#444", "symbolStrokeWidth": 0.7, "symbolOpacity": 1, "rowPadding": 10, "titlePadding": 8, "labelOffset": 7}}
}
},
{
"width": 60, "height": 304,
"data": {"name": "RDY"},
"mark": {"type": "area", "orient": "horizontal", "fillOpacity": 0.78, "stroke": "#3c3c3c", "strokeWidth": 0.6},
"encoding": {
"y": {"field": "y", "type": "quantitative", "scale": {"domain": [0.812, 4.178], "nice": false, "zero": false}, "axis": null},
"x": {"field": "d", "type": "quantitative", "stack": null, "scale": {"domain": [0, 1.765], "nice": false}, "axis": null},
"color": {"field": "c", "type": "nominal", "scale": {"domain": ["A", "B", "C"], "range": ["#5f96bb", "#ebb955", "#e8503f"]}, "legend": null}
}
}
]
}
]
}
],
"resolve": {"scale": {"color": "independent"}, "legend": {"color": "independent"}},
"config": {
"view": {"stroke": null},
"axis": {"domain": false, "grid": false, "tickColor": "#555", "labelColor": "#4d4d4d", "titleColor": "#222", "labelFont": "Liberation Sans", "titleFont": "Liberation Sans", "titleFontWeight": "normal"}
}
}
